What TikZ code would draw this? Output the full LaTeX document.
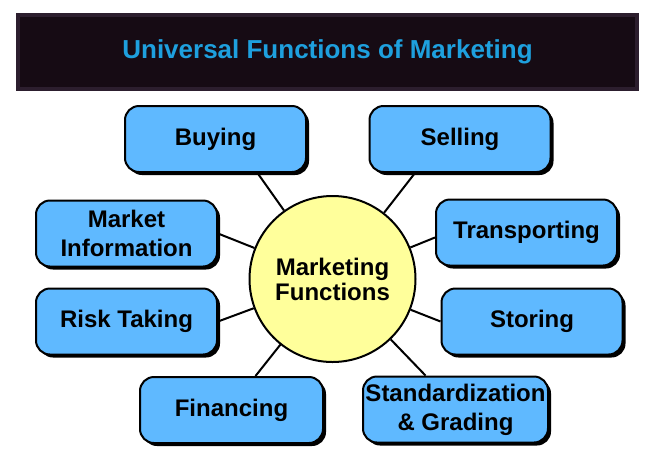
\documentclass[tikz,border=0pt]{standalone}
\usepackage{fontspec}
\setmainfont{Liberation Sans}
\usepackage{tikz}
\usetikzlibrary{shadows, positioning}
\definecolor{barfill}{RGB}{22,11,20}
\definecolor{barline}{RGB}{44,30,46}
\definecolor{titleblue}{RGB}{30,160,222}
\definecolor{boxblue}{RGB}{95,185,255}
\definecolor{circyellow}{RGB}{255,255,155}

\begin{document}
\begin{tikzpicture}[x=1pt, y=-1pt,
    fnbox/.style={draw, line width=2pt, fill=boxblue, rounded corners=14pt,
      minimum width=181pt, minimum height=66pt, inner sep=2pt, align=center,
      font=\fontsize{24}{29}\selectfont\bfseries,
      drop shadow={shadow xshift=3pt, shadow yshift=-3pt, fill=black, opacity=1}},
    spoke/.style={line width=2pt}]
      \useasboundingbox (0, 0) rectangle (654, 456);
      % title bar
      \node[draw=barline, line width=4pt, fill=barfill, minimum width=619pt, minimum height=74pt,
        inner sep=0pt, text=titleblue, font=\fontsize{26}{30}\selectfont\bfseries]
        (title) at (327.5, 52) {Universal Functions of Marketing};
      % hub
      \node[circle, draw, line width=2pt, fill=circyellow, minimum size=166pt, inner sep=0pt,
        align=center, font=\fontsize{24}{25}\selectfont\bfseries]
        (hub) at (332.5, 279) {Marketing\\Functions};
      % the eight functions
      \node[fnbox] (buy) at (215.5, 139) {Buying};
      \node[fnbox] (sell) at (460, 139) {Selling};
      \node[fnbox] (info) at (126.5, 233.5) {Market\\Information};
      \node[fnbox] (trans) at (526.5, 232.5) {Transporting};
      \node[fnbox] (risk) at (126.5, 321.5) {Risk Taking};
      \node[fnbox] (stor) at (532, 321.5) {Storing};
      \node[fnbox, minimum width=183pt] (fin) at (231.5, 410) {Financing};
      \node[fnbox, minimum width=185pt] (std) at (455.5, 409.5) {Standardization\\\& Grading};
      % spokes
      \draw[spoke] (hub) -- ([xshift=42pt]buy.south);
      \draw[spoke] (hub) -- ([xshift=-45pt]sell.south);
      \draw[spoke] (hub) -- (info.east);
      \draw[spoke] (hub) -- ([yshift=-5pt]trans.west);
      \draw[spoke] (hub) -- (risk.east);
      \draw[spoke] (hub) -- (stor.west);
      \draw[spoke] (hub) -- ([xshift=24pt]fin.north);
      \draw[spoke] (hub) -- ([xshift=-30pt]std.north);
    \end{tikzpicture}
\end{document}
